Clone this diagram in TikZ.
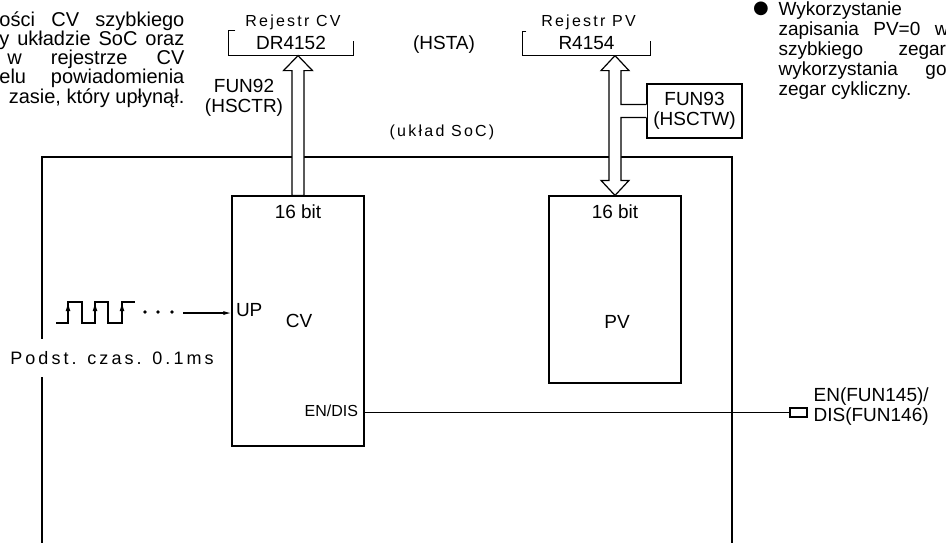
\documentclass[tikz,border=0pt]{standalone}
\usepackage{fontspec}
\setmainfont{Liberation Sans}
\newfontfamily\spaced[LetterSpace=14]{Liberation Sans}
\newfontfamily\spacedwide[LetterSpace=17]{Liberation Sans}
\newfontfamily\symfont{DejaVu Sans}
\usetikzlibrary{positioning, arrows.meta, calc}

\begin{document}
\begin{tikzpicture}[x=0.5pt, y=-0.5pt, line width=0.6pt,
  every node/.style={font=\fontsize{9.5}{10}\selectfont, inner sep=0pt},
  block/.style={draw, minimum width=66pt},
  bus/.style={draw, fill=white, line join=miter},
  spread/.style={font=\spaced\fontsize{8}{9}\selectfont},
  para/.style={font=\fontsize{10}{9.6}\selectfont}]

  \useasboundingbox (0,0) rectangle (946,542);
  \clip (0,0) rectangle (946,542);

  % notes cut by the page edges
  \node[para, anchor=north east, align=right] (leftnote) at (185,11) {%
    \makebox[92.5pt][s]{ości CV szybkiego}\\
    \makebox[92.5pt][s]{y układzie SoC oraz}\\
    \makebox[88.5pt][s]{w rejestrze CV}\\
    \makebox[92.5pt][s]{elu powiadomienia}\\
    zasie, który upłynął.};
  \node[font=\symfont\fontsize{9}{9}\selectfont] (bullet) at (761,9) {●};
  \node[para, font=\fontsize{9.5}{10}\selectfont, anchor=north west, align=left]
    (rightnote) at (778,1) {%
    Wykorzystanie\\
    \makebox[85pt][s]{zapisania PV=0 w}\\
    \makebox[89pt][s]{szybkiego zegara}\\
    \makebox[84pt][s]{wykorzystania go}\\
    zegar cykliczny.};

  % SoC frame and counters
  \node[draw, minimum width=345pt, minimum height=221.5pt] (soc) at (387,378.5) {};
  \node[spread] (socname) at (442,132) {(układ SoC)};
  \node[block, minimum height=125pt] (cvbox) at (298,321) {};
  \node[block, minimum height=93.5pt] (pvbox) at (615,289.5) {};
  \node (cvbits) at ($(cvbox.north)+(0,16)$) {16 bit};
  \node (pvbits) at ($(pvbox.north)+(0,16)$) {16 bit};
  \node (cvname) at ($(cvbox.north)+(1,126)$) {CV};
  \node (pvname) at ($(pvbox.north)+(2,127)$) {PV};

  % registers
  \node[minimum width=62pt, minimum height=12pt] (regcv) at (291,43) {DR4152};
  \node[minimum width=63.5pt, minimum height=11.5pt] (regpv) at (586.5,43.5) {R4154};
  \node[spread] (regcvname) at ($(regcv.north)+(2,-8)$) {Rejestr CV};
  \node[spread] (regpvname) at ($(regpv.north)+(2,-9)$) {Rejestr PV};
  \draw ($(regcv.north west)+(7,0)$) -- (regcv.north west) -- (regcv.south west)
    -- (regcv.south east) -- ++(0,-15);
  \draw ($(regpv.north west)+(4,0)$) -- (regpv.north west) -- (regpv.south west)
    -- (regpv.south east) -- ++(0,-15);
  \node (hsta) at (444,45) {(HSTA)};

  % read / write instructions
  \node[align=center] (fun92) at (244,98) {FUN92\\(HSCTR)};
  \node[draw, minimum width=47.5pt, minimum height=27pt, align=center] (fun93)
    at (694.5,111) {FUN93\\(HSCTW)};

  \coordinate (cvtop) at (cvbox.north |- regcv.south);
  \draw[bus] (cvtop) -- ++(14.5,15) -- ++(-8.5,0) -- ($(cvbox.north)+(6,0)$)
    -- ($(cvbox.north)+(-6,0)$) -- ($(cvtop)+(-6,15)$) -- ++(-8.5,0) -- cycle;

  \coordinate (pvtop) at (pvbox.north |- regpv.south);
  \fill[white] (pvtop) -- ++(14,15) -- ++(-8,0) |- ($(fun93.west)+(0.5,-6.5)$)
    -- ($(fun93.west)+(0.5,6.5)$) -| ($(pvbox.north)+(6,-15)$) -- ++(8,0)
    -- (pvbox.north) -- ++(-14,-15) -- ++(8,0) -- ($(pvtop)+(-6,15)$) -- ++(-8,0) -- cycle;
  \draw[line join=miter] (pvtop) -- ++(14,15) -- ++(-8,0) |- ($(fun93.west)+(0,-6.5)$);
  \draw[line join=miter] ($(fun93.west)+(0,6.5)$) -| ($(pvbox.north)+(6,-15)$) -- ++(8,0)
    -- (pvbox.north) -- ++(-14,-15) -- ++(8,0) -- ($(pvtop)+(-6,15)$) -- ++(-8,0) -- (pvtop);

  % time base pulses
  \draw (56,323) -- (68,323) -- (68,302) -- (82,302) -- (82,323) -- (95,323)
    -- (95,302) -- (108,302) -- (108,323) -- (122,323) -- (122,302) -- (135,302);
  \foreach \x in {68,95,122}
    \draw[-{Latex[length=4.5pt, width=2.4pt]}] (\x,318) -- (\x,302);
  \foreach \x in {145,158,172}
    \fill (\x,312) circle (1.8);
  \coordinate (clk) at (183,313);
  \draw[-{Latex[length=4pt, width=2pt]}] (clk) -- (clk -| cvbox.west);
  \node[anchor=west] (up) at ($(cvbox.west)+(4,-11)$) {UP};
  \node[font=\spacedwide\fontsize{9}{10}\selectfont, fill=white, inner xsep=2pt,
    inner ysep=6pt] (base) at (112,358) {Podst. czas. 0.1ms};

  % enable / disable input
  \node[anchor=east, font=\fontsize{8}{9}\selectfont] (endis)
    at ($(cvbox.south east)+(-6,-36)$) {EN/DIS};
  \node[draw, minimum width=8.5pt, minimum height=4.5pt] (enpin) at (798.5,412.5) {};
  \draw (cvbox.east |- enpin.west) -- (enpin.west);
  \node[anchor=west, align=left] (enname) at (813,407) {EN(FUN145)/\\DIS(FUN146)};
\end{tikzpicture}
\end{document}
